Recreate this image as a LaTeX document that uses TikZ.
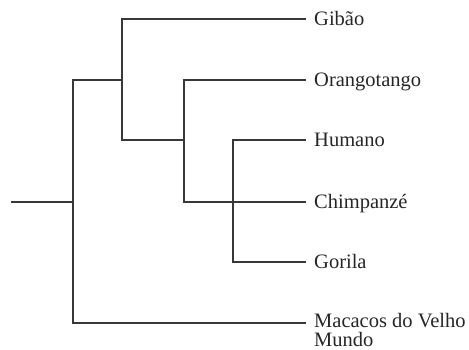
\documentclass[tikz,border=0pt]{standalone}
\usepackage{fontspec}
\setmainfont{Liberation Serif}
\begin{document}
\begin{tikzpicture}[x=1pt,y=-1pt,
  branch/.style={draw=black!78,line width=1.3pt},
  leaf/.style={anchor=west,inner xsep=8pt,inner ysep=0pt,text height=13pt,text depth=0pt,
    font=\fontsize{20.5}{18.5}\selectfont,text=black!85}]
\useasboundingbox (0,0) rectangle (469,350);
% internal nodes
\coordinate (r0) at (11,202);
\coordinate (rt) at (73,80);
\coordinate (rb) at (73,323);
\coordinate (a) at (122,80);
\coordinate (at) at (122,19);
\coordinate (ab) at (122,140);
\coordinate (b) at (184,140);
\coordinate (bt) at (184,80);
\coordinate (bb) at (184,202);
\coordinate (ct) at (233,140);
\coordinate (cb) at (233,262);
\coordinate (mw) at (306,323);
% leaves
\node[leaf] (gib) at (306,19) {Gibão};
\node[leaf] (ora) at (306,80) {Orangotango};
\node[leaf] (hum) at (306,140) {Humano};
\node[leaf] (chi) at (306,202) {Chimpanzé};
\node[leaf] (gor) at (306,262) {Gorila};
\node[leaf,anchor=base west,text height=,text depth=] (mac) at (306,327.5)
  {\vtop{\hbox{Macacos do Velho}\hbox{Mundo}}};
% branches
\draw[branch] (r0) -- (73,202);
\draw[branch] (mw) -- (rb) -- (rt) -- (a);
\draw[branch] (gib.west) -- (at) -- (ab) -- (b);
\draw[branch] (ora.west) -- (bt) -- (bb) -- (chi.west);
\draw[branch] (hum.west) -- (ct) -- (cb) -- (gor.west);
\end{tikzpicture}
\end{document}
